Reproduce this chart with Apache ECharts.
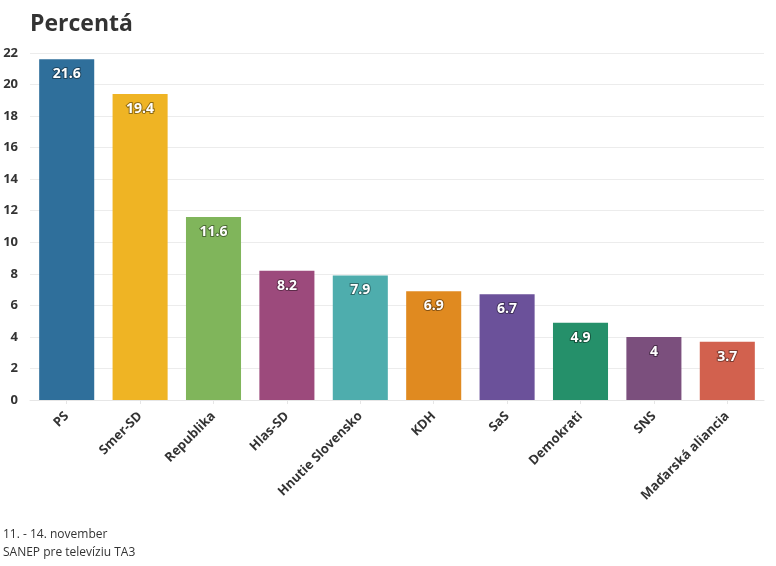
<!DOCTYPE html>
<html><head><meta charset="utf-8">
<script src="https://cdn.jsdelivr.net/npm/echarts@6/dist/echarts.min.js"></script>
<style>html,body{margin:0;padding:0;background:#fff}#c{width:776px;height:566px}</style>
</head><body><div id="c"></div>
<script>
const categories = ['PS','Smer-SD','Republika','Hlas-SD','Hnutie Slovensko','KDH','SaS','Demokrati','SNS','Maďarská aliancia'];
const values = [21.6,19.4,11.6,8.2,7.9,6.9,6.7,4.9,4,3.7];
const colors = ['#2f6f9b','#efb424','#80b55b','#9c4a7c','#4eadad','#e08a20','#6b519a','#25906a','#7b4f7d','#d2614e'];
const chart = echarts.init(document.getElementById('c'), null, {renderer:'canvas'});
const font = '"Open Sans", Lato, sans-serif';
chart.setOption({
  animation:false,
  textStyle:{fontFamily:font},
  title:[
    {text:'Percentá', left:25, top:8, textStyle:{fontFamily:font, fontSize:23, fontWeight:'bold', color:'#333'}},
    {text:'11. - 14. november\nSANEP pre televíziu TA3', left:-2, top:521, textStyle:{fontFamily:font, fontSize:12, fontWeight:'normal', color:'#333', lineHeight:18}}
  ],
  grid:{left:30, right:12, top:53, bottom:166, containLabel:false},
  xAxis:{type:'category', data:categories,
    axisLine:{lineStyle:{color:'#e6e6e6'}},
    axisTick:{show:true, alignWithLabel:true, length:4, lineStyle:{color:'#e6e6e6'}},
    axisLabel:{rotate:45, fontSize:13, fontWeight:'bold', color:'#333', margin:14, interval:0}},
  yAxis:{type:'value', min:0, max:22, interval:2,
    axisLine:{show:false}, axisTick:{show:false},
    splitLine:{lineStyle:{color:'#ececec'}},
    axisLabel:{fontSize:13, fontWeight:'bold', color:'#333', margin:12}},
  series:[{type:'bar', barWidth:'75%',
    data:values.map((v,i)=>({value:v, itemStyle:{color:colors[i]}})),
    label:{show:true, position:'insideTop', distance:8, color:'#fff', fontSize:14, fontWeight:'bold', fontFamily:font,
      textBorderColor:'rgba(0,0,0,0.4)', textBorderWidth:2}
  }]
});
</script></body></html>
